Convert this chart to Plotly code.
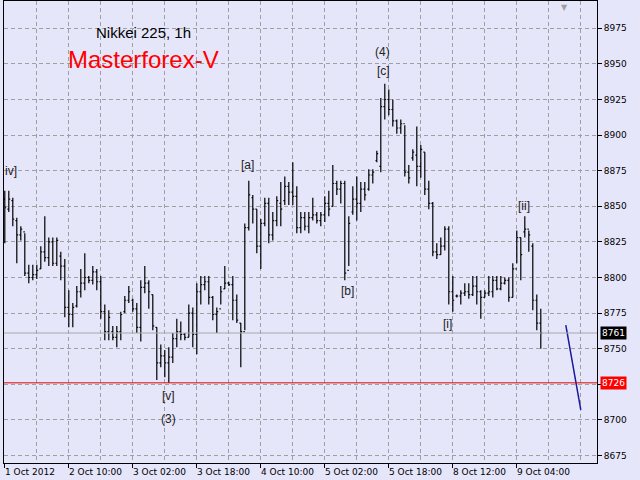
import plotly.graph_objects as go

# ---------------- data ----------------
bar_index = list(range(135))
opens = [8855, 8848, 8854, 8840, 8830, 8832, 8803, 8800, 8802, 8806,
         8818, 8814, 8825, 8810, 8815, 8808, 8779, 8774, 8780, 8790,
         8796, 8800, 8798, 8804, 8797, 8776, 8762, 8762, 8758, 8762,
         8776, 8784, 8784, 8778, 8765, 8793, 8796, 8788, 8765, 8740,
         8745, 8740, 8744, 8757, 8762, 8760, 8758, 8775, 8760, 8790,
         8795, 8797, 8786, 8774, 8778, 8792, 8796, 8795, 8784, 8768,
         8762, 8835, 8856, 8848, 8822, 8838, 8852, 8830, 8840, 8852,
         8854, 8864, 8860, 8857, 8835, 8842, 8836, 8842, 8844, 8840,
         8844, 8852, 8850, 8866, 8862, 8866, 8805, 8846, 8855, 8852,
         8862, 8862, 8872, 8882, 8878, 8920, 8925, 8918, 8910, 8905,
         8908, 8874, 8884, 8886, 8878, 8888, 8862, 8852, 8818, 8816,
         8822, 8834, 8790, 8787, 8787, 8789, 8790, 8788, 8794, 8790,
         8786, 8789, 8790, 8798, 8792, 8796, 8798, 8786, 8806, 8828,
         8832, 8834, 8822, 8784, 8768]
highs = [8861, 8861, 8856, 8842, 8836, 8831, 8809, 8809, 8809, 8822,
         8843, 8828, 8828, 8828, 8818, 8813, 8791, 8782, 8794, 8806,
         8817, 8801, 8808, 8806, 8801, 8781, 8777, 8766, 8766, 8776,
         8787, 8794, 8785, 8782, 8798, 8808, 8798, 8788, 8765, 8753,
         8749, 8751, 8761, 8771, 8769, 8761, 8781, 8779, 8796, 8801,
         8801, 8801, 8787, 8779, 8794, 8808, 8797, 8801, 8788, 8768,
         8838, 8868, 8858, 8848, 8841, 8856, 8856, 8846, 8857, 8867,
         8871, 8867, 8881, 8864, 8846, 8846, 8846, 8856, 8846, 8846,
         8857, 8861, 8879, 8868, 8868, 8868, 8843, 8864, 8871, 8867,
         8867, 8876, 8876, 8889, 8926, 8936, 8932, 8925, 8911, 8911,
         8907, 8879, 8890, 8906, 8893, 8888, 8868, 8853, 8824, 8828,
         8836, 8836, 8801, 8788, 8791, 8796, 8796, 8801, 8801, 8791,
         8791, 8801, 8801, 8801, 8801, 8800, 8800, 8810, 8833, 8828,
         8843, 8833, 8824, 8788, 8778]
lows = [8824, 8846, 8836, 8810, 8826, 8801, 8796, 8798, 8799, 8806,
        8811, 8808, 8808, 8808, 8798, 8772, 8765, 8765, 8779, 8786,
        8791, 8796, 8795, 8791, 8771, 8756, 8756, 8756, 8751, 8756,
        8775, 8782, 8776, 8761, 8755, 8789, 8778, 8763, 8728, 8737,
        8730, 8726, 8740, 8751, 8756, 8756, 8758, 8751, 8746, 8781,
        8791, 8781, 8770, 8761, 8781, 8792, 8794, 8770, 8768, 8737,
        8763, 8833, 8838, 8817, 8806, 8836, 8824, 8826, 8836, 8836,
        8851, 8851, 8851, 8831, 8831, 8833, 8831, 8840, 8838, 8836,
        8839, 8843, 8850, 8858, 8852, 8798, 8808, 8844, 8840, 8846,
        8854, 8861, 8866, 8881, 8874, 8911, 8914, 8906, 8901, 8901,
        8871, 8866, 8882, 8864, 8870, 8858, 8848, 8815, 8813, 8816,
        8819, 8781, 8776, 8786, 8781, 8787, 8785, 8787, 8781, 8771,
        8786, 8787, 8786, 8791, 8791, 8795, 8783, 8786, 8810, 8798,
        8828, 8818, 8777, 8763, 8750]
closes = [8849, 8855, 8841, 8830, 8834, 8803, 8800, 8802, 8805, 8818,
          8814, 8825, 8810, 8826, 8808, 8779, 8774, 8779, 8790, 8796,
          8800, 8798, 8804, 8797, 8776, 8762, 8772, 8758, 8762, 8774,
          8784, 8790, 8778, 8765, 8793, 8796, 8790, 8766, 8740, 8745,
          8740, 8744, 8757, 8762, 8760, 8758, 8775, 8760, 8790, 8795,
          8797, 8786, 8774, 8776, 8790, 8796, 8795, 8784, 8770, 8762,
          8835, 8858, 8848, 8822, 8838, 8852, 8830, 8840, 8854, 8848,
          8864, 8860, 8857, 8835, 8842, 8836, 8842, 8844, 8840, 8844,
          8852, 8848, 8866, 8862, 8866, 8803, 8838, 8855, 8852, 8862,
          8858, 8872, 8874, 8887, 8920, 8925, 8918, 8910, 8905, 8908,
          8874, 8870, 8888, 8878, 8890, 8862, 8852, 8818, 8816, 8822,
          8834, 8790, 8784, 8787, 8789, 8790, 8788, 8794, 8790, 8786,
          8789, 8790, 8798, 8792, 8796, 8798, 8786, 8806, 8828, 8816,
          8834, 8830, 8784, 8768, 8761]

time_tick_index = [0, 16, 32, 48, 64, 80, 96, 112, 128]
time_tick_labels = ["1 Oct 2012", "2 Oct 10:00", "3 Oct 02:00", "3 Oct 18:00",
                    "4 Oct 10:00", "5 Oct 02:00", "5 Oct 18:00", "8 Oct 12:00",
                    "9 Oct 04:00"]
grid_index = list(range(8, 148, 8))
price_ticks = list(range(8675, 9000, 25))

bid_price = 8761
level_price = 8726

wave_labels = ["iv]", "[a]", "[b]", "(4)", "[c]", "[v]", "(3)", "[i]", "[ii]"]
wave_x = [1.6, 60.75, 85.75, 94.5, 94.75, 41, 41, 110.75, 129.75]
wave_y = [8874.8, 8879, 8790.5, 8958.4, 8945, 8716.8, 8700.6, 8767.3, 8850.2]

projection_x = [140.25, 144.0]
projection_y = [8766.6, 8707.0]

BG = "#E6E6FA"
GRID = "#A0A0A0"
FONT = "DejaVu Sans"

# the level box covers the nearest price label, as in the terminal
price_tick_text = ["" if abs(p - level_price) < 5 else str(p) for p in price_ticks]

fig = go.Figure()
fig.add_trace(go.Ohlc(
    x=bar_index, open=opens, high=highs, low=lows, close=closes,
    increasing=dict(line=dict(color="black", width=1.2)),
    decreasing=dict(line=dict(color="black", width=1.2)),
    tickwidth=0.35, showlegend=False, hoverinfo="skip"))

fig.add_trace(go.Scatter(
    x=projection_x, y=projection_y, mode="lines",
    line=dict(color="#1a1a9a", width=1.5), showlegend=False, hoverinfo="skip"))

# horizontal lines
fig.add_hline(y=bid_price, line=dict(color="#A8A8A8", width=1))
fig.add_hline(y=level_price, line=dict(color="#E00000", width=1))

fig.update_layout(
    width=640, height=480,
    margin=dict(l=4, r=43, t=1, b=17),
    paper_bgcolor=BG, plot_bgcolor=BG,
    font=dict(family=FONT, size=9, color="black"),
    showlegend=False,
    xaxis=dict(
        range=[-0.2, 148.05], rangeslider=dict(visible=False),
        tickvals=time_tick_index, ticktext=[""] * len(time_tick_index),
        ticks="outside", ticklen=4, tickcolor="black",
        showgrid=False, zeroline=False,
        showline=True, linecolor="black", linewidth=1, mirror=True,
        minor=dict(tickvals=grid_index, showgrid=True, gridcolor=GRID,
                   griddash="4px,3px", gridwidth=1, ticks=""),
    ),
    yaxis=dict(
        range=[8669.7, 8994.2], side="right",
        tickvals=price_ticks, ticktext=price_tick_text,
        ticks="outside", ticklen=4, tickcolor="black",
        showgrid=True, gridcolor=GRID, griddash="4px,3px", gridwidth=1,
        zeroline=False,
        showline=True, linecolor="black", linewidth=1, mirror=True,
        tickfont=dict(family=FONT, size=9),
    ),
)

# time labels, left-aligned at their ticks (MetaTrader style)
for xi, lab in zip(time_tick_index, time_tick_labels):
    fig.add_annotation(x=xi, xref="x", y=0, yref="paper", yanchor="top",
                       xanchor="left", yshift=-2, xshift=-2, text=lab,
                       showarrow=False, font=dict(family=FONT, size=9))

# wave labels
for t, xv, yv in zip(wave_labels, wave_x, wave_y):
    fig.add_annotation(x=xv, y=yv, text=t, showarrow=False,
                       font=dict(family="Liberation Sans", size=12, color="#222222"))

# price boxes at the right axis
fig.add_annotation(x=1, xref="paper", y=bid_price, yref="y", xanchor="left",
                   xshift=3, text=str(bid_price), showarrow=False,
                   bgcolor="black", font=dict(family=FONT, size=9, color="white"),
                   borderpad=1)
fig.add_annotation(x=1, xref="paper", y=level_price, yref="y", xanchor="left",
                   xshift=3, text=str(level_price), showarrow=False,
                   bgcolor="#FF0000", font=dict(family=FONT, size=9, color="white"),
                   borderpad=1)

# titles
fig.add_annotation(x=0.236, xref="paper", y=0.931, yref="paper", xanchor="center",
                   yanchor="middle", text="Nikkei 225, 1h", showarrow=False,
                   font=dict(family="Liberation Sans", size=15, color="black"))
fig.add_annotation(x=0.236, xref="paper", y=0.874, yref="paper", xanchor="center",
                   yanchor="middle", text="Masterforex-V", showarrow=False,
                   font=dict(family="Liberation Sans", size=24, color="#FF0000"))

# shift marker
fig.add_annotation(x=0.946, xref="paper", y=1, yref="paper", yanchor="top",
                   xanchor="center", text="▼", showarrow=False,
                   font=dict(size=8, color="#A0A0A0"))

fig.write_html("out.html", config={"displayModeBar": False},
               post_script="document.body.style.margin='0';document.body.style.background='#E6E6FA';")
